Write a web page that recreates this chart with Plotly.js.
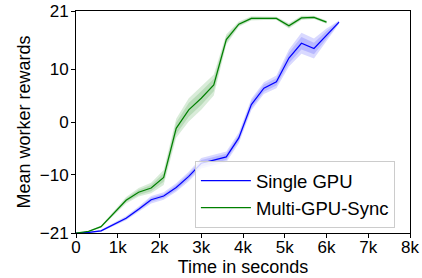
<!DOCTYPE html>
<html><head><meta charset="utf-8">
<script src="https://cdn.plot.ly/plotly-3.0.1.min.js"></script>
<style>html,body{margin:0;padding:0;background:#fff}#chart{width:422px;height:278px}</style>
</head><body><div id="chart"></div>
<script>
var singleTime = [0,300,600,900,1200,1500,1800,2100,2400,2700,3000,3300,3600,3900,4200,4500,4800,5100,5400,5700,6000,6300];
var singleMean = [-21,-20.9,-20.6,-19.4,-18.2,-16.5,-14.7,-14.0,-12.4,-10.3,-7.8,-7.2,-6.6,-3.0,3.3,6.4,7.6,12.1,14.9,13.9,16.5,18.9];
var singleOuter = [0,0.1,0.2,0.3,0.4,0.5,0.7,0.7,0.8,0.9,1.0,1.0,1.0,1.0,1.1,1.1,1.2,1.6,2.0,1.9,1.2,0.3];
var singleInner = [0,0.05,0.1,0.2,0.25,0.3,0.4,0.4,0.5,0.5,0.6,0.6,0.6,0.6,0.7,0.7,0.7,1.0,1.2,1.1,0.7,0.2];

var multiTime = [0,300,600,900,1200,1500,1800,2100,2400,2700,3000,3300,3600,3900,4200,4500,4800,5100,5400,5700,6000];
var multiMean = [-21,-20.7,-19.8,-17.3,-14.8,-13.3,-12.5,-10.5,-1.2,2.3,4.5,7.0,15.6,18.5,19.6,19.6,19.6,18.2,19.7,19.8,18.9];
var multiOuter = [0,0.1,0.2,0.4,0.6,0.8,1.0,1.4,1.8,2.2,2.2,2.0,1.0,0.5,0.4,0.3,0.3,0.5,0.4,0.3,0.3];
var multiInner = [0,0.05,0.1,0.25,0.35,0.5,0.6,0.8,1.1,1.3,1.3,1.2,0.6,0.3,0.25,0.2,0.2,0.3,0.25,0.2,0.2];

var xTickVals = [0,1000,2000,3000,4000,5000,6000,7000,8000];
var xTickText = ['0','1k','2k','3k','4k','5k','6k','7k','8k'];
var yTickVals = [-21,-10,0,10,21];
var seriesNames = ['Single GPU','Multi-GPU-Sync'];

function band(x, m, s, sign){ return m.map(function(v,i){return v + sign*s[i];}); }
function bandTraces(x, m, outer, inner, color){
  return [
    {x:x, y:band(x,m,outer,-1), mode:'lines', line:{width:0}, showlegend:false, hoverinfo:'skip'},
    {x:x, y:band(x,m,outer,1), mode:'lines', line:{width:0}, fill:'tonexty', fillcolor:color, showlegend:false, hoverinfo:'skip'},
    {x:x, y:band(x,m,inner,-1), mode:'lines', line:{width:0}, showlegend:false, hoverinfo:'skip'},
    {x:x, y:band(x,m,inner,1), mode:'lines', line:{width:0}, fill:'tonexty', fillcolor:color, showlegend:false, hoverinfo:'skip'}
  ];
}
var traces = [];
traces = traces.concat(bandTraces(singleTime, singleMean, singleOuter, singleInner, 'rgba(0,0,255,0.15)'));
traces = traces.concat(bandTraces(multiTime, multiMean, multiOuter, multiInner, 'rgba(0,128,0,0.15)'));
traces.push({x:singleTime, y:singleMean, mode:'lines', name:seriesNames[0], line:{color:'#0000ff', width:1.2}});
traces.push({x:multiTime, y:multiMean, mode:'lines', name:seriesNames[1], line:{color:'#008000', width:1.2}});

var font = {family:'Liberation Sans, Arial, sans-serif', size:17, color:'#000'};
var titleFont = {family:'Liberation Sans, Arial, sans-serif', size:18, color:'#000'};
var legendFont = {family:'Liberation Sans, Arial, sans-serif', size:18.5, color:'#000'};
var layout = {
  width:422, height:278,
  margin:{l:76, r:12, t:11, b:45, pad:0},
  paper_bgcolor:'#fff', plot_bgcolor:'#fff',
  font:font,
  showlegend:true,
  legend:{x:0.356, y:0.324, xanchor:'left', yanchor:'top', traceorder:'normal', itemwidth:50,
    bgcolor:'rgba(255,255,255,0.8)', bordercolor:'#cccccc', borderwidth:1, font:legendFont, tracegroupgap:0},
  xaxis:{range:[0,8000], tickvals:xTickVals, ticktext:xTickText, showgrid:false, zeroline:false,
    showline:true, linecolor:'#000', linewidth:1, mirror:true, ticks:'outside', ticklen:4, tickcolor:'#000',
    ticklabelstandoff:-5,
    title:{text:'Time in seconds', font:titleFont, standoff:1}, tickfont:font},
  yaxis:{range:[-21,21], tickvals:yTickVals, showgrid:false, zeroline:false,
    showline:true, linecolor:'#000', linewidth:1, mirror:true, ticks:'outside', ticklen:4, tickcolor:'#000',
    ticklabelstandoff:-1,
    title:{text:'Mean worker rewards', font:titleFont, standoff:4}, tickfont:font}
};
Plotly.newPlot('chart', traces, layout, {displayModeBar:false, staticPlot:true});
</script></body></html>
